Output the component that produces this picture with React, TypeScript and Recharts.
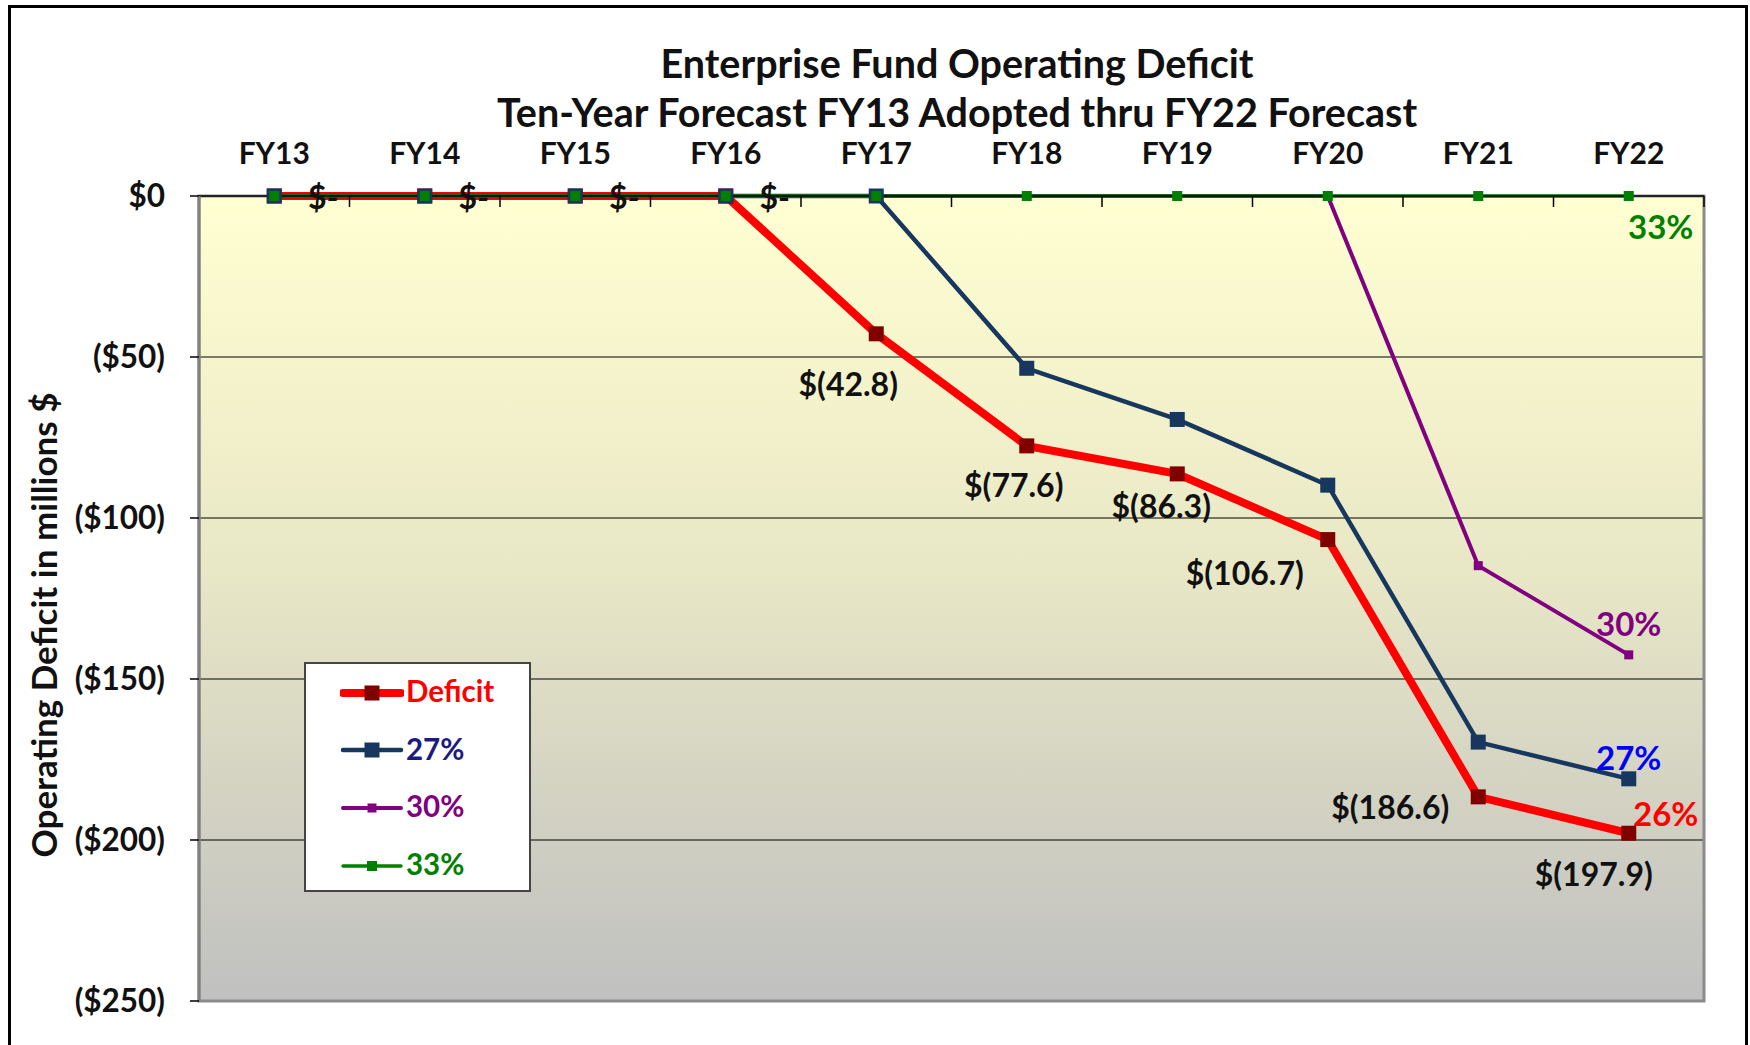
import React from "react";
import {
  LineChart,
  Line,
  XAxis,
  YAxis,
  CartesianGrid,
  Legend,
  LabelList,
  ReferenceArea,
} from "recharts";

const years = ["FY13", "FY14", "FY15", "FY16", "FY17", "FY18", "FY19", "FY20", "FY21", "FY22"];
const deficit = [0, 0, 0, 0, -42.8, -77.6, -86.3, -106.7, -186.6, -197.9];
const rate27 = [0, 0, 0, 0, 0, -53.5, -69.4, -89.8, -169.6, -181.0];
const rate30 = [0, 0, 0, 0, 0, 0, 0, 0, -114.8, -142.5];
const rate33 = [0, 0, 0, 0, 0, 0, 0, 0, 0, 0];
const yTicks = [0, -50, -100, -150, -200, -250];
const endLabels: Record<string, string> = { deficit: "26%", rate27: "27%", rate30: "30%", rate33: "33%" };

const data = years.map((fy, i) => ({
  i,
  fy,
  deficit: deficit[i],
  rate27: rate27[i],
  rate30: rate30[i],
  rate33: rate33[i],
}));

const FONT = "Lato, 'Open Sans', sans-serif";

// line styling per series
const series = [
  { key: "deficit", name: "Deficit", stroke: "#FF0000", width: 8, marker: "#800000", size: 15, legendText: "#FF0000", endText: "#FF0000", endDx: 37, endDy: -20 },
  { key: "rate27", name: "27%", stroke: "#17375E", width: 4.5, marker: "#17375E", size: 15, legendText: "#1A1A80", endText: "#0000FF", endDx: 0, endDy: -22 },
  { key: "rate30", name: "30%", stroke: "#800080", width: 4, marker: "#800080", size: 9, legendText: "#800080", endText: "#800080", endDx: 0, endDy: -32 },
  { key: "rate33", name: "33%", stroke: "#008000", width: 3.5, marker: "#008000", size: 10, legendText: "#008000", endText: "#008000", endDx: 32, endDy: 30 },
];

// where the deficit value labels sit relative to their point
const deficitLabelOffset = [
  [49, 0], [49, 0], [49, 0], [49, 0],
  [-28, 50], [-13, 39], [-16, 32], [-83, 33], [-88, 10], [-35, 40],
];

const fmtMoney = (v: number) => (v === 0 ? "$-" : `$(${Math.abs(v).toFixed(1)})`);
const fmtTick = (v: number) => (v === 0 ? "$0" : `($${Math.abs(v)})`);

const squareDot = (color: string, size: number) => (props: any) => {
  const { cx, cy, index } = props;
  if (cx == null || cy == null) return <g key={`d-${index}`} />;
  return (
    <rect key={`d-${index}`} x={cx - size / 2} y={cy - size / 2} width={size} height={size} fill={color} />
  );
};

const renderDeficitLabel = (props: any) => {
  const { x, y, value, index } = props;
  const [dx, dy] = deficitLabelOffset[index] || [0, 0];
  return (
    <text
      x={x + dx}
      y={y + dy}
      textAnchor="middle"
      dominantBaseline="central"
      fontFamily={FONT}
      fontWeight={700}
      fontSize={32}
      fill="#111"
    >
      {fmtMoney(Number(value))}
    </text>
  );
};

const endLabel = (s: (typeof series)[number]) => (props: any) => {
  const { x, y, index } = props;
  if (index !== years.length - 1) return null;
  return (
    <text
      x={x + s.endDx}
      y={y + s.endDy}
      textAnchor="middle"
      dominantBaseline="central"
      fontFamily={FONT}
      fontWeight={700}
      fontSize={33}
      fill={s.endText}
    >
      {endLabels[s.key]}
    </text>
  );
};

function LegendBox() {
  return (
    <div
      style={{
        width: 227,
        height: 230,
        boxSizing: "border-box",
        background: "#fff",
        border: "2px solid #444",
        paddingTop: 0,
      }}
    >
      {series.map((s) => (
        <div key={s.key} style={{ height: 57.6, marginTop: 0, display: "flex", alignItems: "center", paddingLeft: 34 }}>
          <svg width={64} height={20}>
            <line x1={3} y1={10} x2={61} y2={10} stroke={s.stroke} strokeWidth={s.width} strokeLinecap="round" />
            <rect x={32 - s.size / 2} y={10 - s.size / 2} width={s.size} height={s.size} fill={s.marker} />
          </svg>
          <span style={{ fontFamily: FONT, fontWeight: 700, fontSize: 29.5, color: s.legendText, marginLeft: 2, marginTop: -4 }}>
            {s.name}
          </span>
        </div>
      ))}
    </div>
  );
}

export default function App() {
  return (
    <div style={{ position: "absolute", left: 0, top: 0, width: 1750, height: 1045, background: "#fff", overflow: "hidden" }}>
      <svg width={0} height={0} style={{ position: "absolute" }}>
        <defs>
          <linearGradient id="plotBg" x1="0" y1="0" x2="0" y2="1">
            <stop offset="0%" stopColor="#FFFFD2" />
            <stop offset="45%" stopColor="#E9E8C6" />
            <stop offset="100%" stopColor="#C0C0C0" />
          </linearGradient>
        </defs>
      </svg>

      <div
        style={{
          position: "absolute",
          left: 8,
          top: 5,
          width: 1740,
          height: 1060,
          border: "3px solid #000",
          boxSizing: "border-box",
        }}
      />

      <div
        style={{
          position: "absolute",
          left: 457,
          top: 38,
          width: 1000,
          textAlign: "center",
          fontFamily: FONT,
          fontWeight: 700,
          fontSize: 39.5,
          lineHeight: "49px",
          color: "#111",
        }}
      >
        Enterprise Fund Operating Deficit
        <br />
        Ten-Year Forecast FY13 Adopted thru FY22 Forecast
      </div>

      <div
        style={{
          position: "absolute",
          left: 43,
          top: 625,
          transform: "translate(-50%, -50%) rotate(-90deg)",
          whiteSpace: "nowrap",
          fontFamily: FONT,
          fontWeight: 700,
          fontSize: 35,
          color: "#111",
        }}
      >
        Operating Deficit in millions $
      </div>

      <div style={{ position: "absolute", left: 0, top: 0 }}>
        <LineChart width={1750} height={1045} data={data} margin={{ top: 136, right: 46, bottom: 44, left: 119 }}>
          <CartesianGrid
            xAxisId="lab"
            vertical={false}
            stroke="#000"
            strokeWidth={1}
            fill="url(#plotBg)"
            fillOpacity={1}
          />
          <ReferenceArea xAxisId="lab" x1={-0.5} x2={9.5} y1={-250} y2={0} fill="none" stroke="#8a8a8a" strokeWidth={3} />
          <XAxis
            xAxisId="lab"
            type="number"
            dataKey="i"
            orientation="top"
            domain={[-0.5, 9.5]}
            ticks={[0, 1, 2, 3, 4, 5, 6, 7, 8, 9]}
            interval={0}
            height={60}
            tickFormatter={(v) => years[v] ?? ""}
            tickLine={false}
            axisLine={false}
            tickSize={0}
            tickMargin={32}
            tick={{ fill: "#111", fontSize: 30, fontWeight: 700, fontFamily: FONT }}
          />
          <XAxis
            xAxisId="mk"
            type="number"
            dataKey="i"
            orientation="top"
            mirror
            domain={[-0.5, 9.5]}
            ticks={[0.5, 1.5, 2.5, 3.5, 4.5, 5.5, 6.5, 7.5, 8.5, 9.5]}
            interval={0}
            height={1}
            tickFormatter={() => ""}
            tickSize={11}
            tickLine={{ stroke: "#000", strokeWidth: 1.5 }}
            axisLine={{ stroke: "#000", strokeWidth: 1.5 }}
          />
          <YAxis
            type="number"
            domain={[-250, 0]}
            ticks={yTicks}
            interval={0}
            width={80}
            tickFormatter={fmtTick}
            tickSize={9}
            tickMargin={25}
            tickLine={{ stroke: "#000", strokeWidth: 1.5 }}
            axisLine={{ stroke: "#808080", strokeWidth: 3 }}
            tick={{ fill: "#111", fontSize: 31.5, fontWeight: 700, fontFamily: FONT }}
          />
          <Legend
            layout="vertical"
            align="center"
            verticalAlign="middle"
            wrapperStyle={{ left: 304, top: 662, width: 227, height: 230 }}
            content={<LegendBox />}
          />
          {series.map((s) => (
            <Line
              key={s.key}
              xAxisId="lab"
              type="linear"
              dataKey={s.key}
              name={s.name}
              stroke={s.stroke}
              strokeWidth={s.width}
              dot={squareDot(s.marker, s.size)}
              activeDot={false}
              isAnimationActive={false}
            >
              <LabelList dataKey={s.key} content={endLabel(s)} />
            </Line>
          ))}
          <Line
            xAxisId="lab"
            type="linear"
            dataKey="deficit"
            name="deficit-labels"
            stroke="none"
            dot={false}
            activeDot={false}
            legendType="none"
            isAnimationActive={false}
          >
            <LabelList dataKey="deficit" content={renderDeficitLabel} />
          </Line>
        </LineChart>
      </div>
    </div>
  );
}
